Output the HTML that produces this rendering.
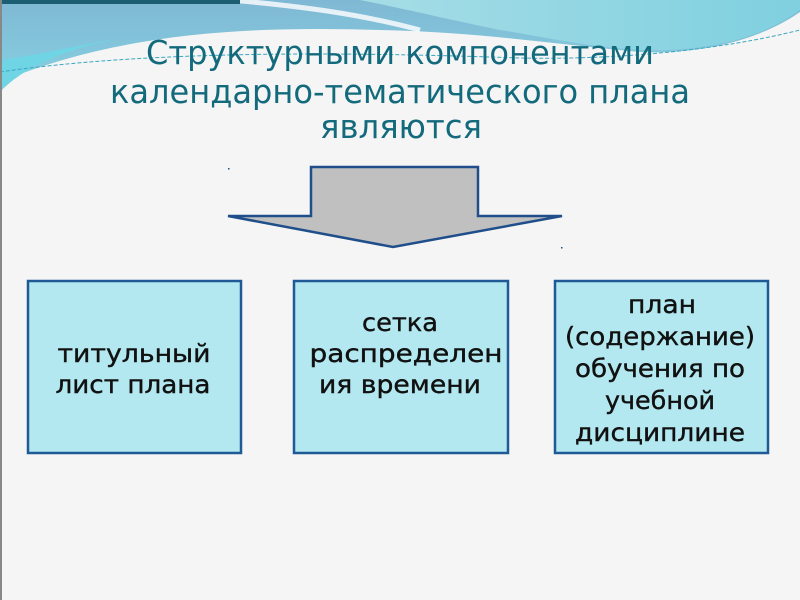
<!DOCTYPE html>
<html><head><meta charset="utf-8"><style>
html,body{margin:0;padding:0;background:#f5f5f5;}
svg{display:block}
</style></head><body>
<svg width="800" height="600" viewBox="0 0 800 600" xmlns="http://www.w3.org/2000/svg">
<defs>
<linearGradient id="g1" x1="0" y1="0" x2="0" y2="1">
<stop offset="0" stop-color="#7fb8d4"/><stop offset="1" stop-color="#86cfe0"/>
</linearGradient>
<linearGradient id="g2" x1="0" y1="0" x2="1" y2="0">
<stop offset="0" stop-color="#a6dde6"/><stop offset="1" stop-color="#7fd0e0"/>
</linearGradient>
</defs>
<rect width="800" height="600" fill="#f5f5f5"/>
<path d="M0,0 H800 V12 C760,40 700,55 640,52 C560,45 480,32 380,30 C250,26 120,32 0,82 Z" fill="url(#g1)"/>
<path d="M360,0 H800 V10 C760,40 700,52 640,50 C580,46 540,36 500,30 C450,20 410,10 360,0 Z" fill="url(#g2)"/>
<path d="M0,60 C40,55 80,45 120,38 C60,50 20,70 0,92 Z" fill="#6fd4e4"/>
<path d="M230,0 C300,6 360,14 420,30" stroke="#ffffff" stroke-width="5" fill="none" opacity="0.8"/>
<path d="M0,72 C150,50 350,52 520,58 C620,60 720,50 800,30" stroke="#3aa8bf" stroke-width="1" fill="none" stroke-dasharray="4,2"/>
<rect x="0" y="0" width="240" height="4" fill="#1d5f72"/>
<rect x="0" y="0" width="2" height="600" fill="#888"/>
<g font-family="DejaVu Sans, Liberation Sans, sans-serif" font-size="33" fill="#136a7c" text-anchor="middle">
<text x="400" y="64" textLength="508" lengthAdjust="spacingAndGlyphs">Структурными компонентами</text>
<text x="400" y="103" textLength="580" lengthAdjust="spacingAndGlyphs">календарно-тематического плана</text>
<text x="401" y="138" textLength="162" lengthAdjust="spacingAndGlyphs">являются</text>
</g>
<rect x="228" y="168" width="1.5" height="1.5" fill="#1f4e79"/>
<rect x="561" y="247" width="1.5" height="1.5" fill="#1f4e79"/>
<path d="M311,167 H478 V216 H562 L393,247 L228,216 H311 Z" fill="#c0c0c0" stroke="#1f4e8a" stroke-width="2.5" stroke-linejoin="miter"/>
<g fill="#b3e8f0" stroke="#1f5a96" stroke-width="2.5">
<rect x="28" y="281" width="213" height="172"/>
<rect x="294" y="281" width="214" height="172"/>
<rect x="555" y="281" width="213" height="172"/>
</g>
<g font-family="DejaVu Sans, Liberation Sans, sans-serif" font-size="25" fill="#111" stroke="#111" stroke-width="0.4" text-anchor="middle">
<text x="134" y="362" textLength="153" lengthAdjust="spacingAndGlyphs">титульный</text>
<text x="133" y="393" textLength="155" lengthAdjust="spacingAndGlyphs">лист плана</text>
<text x="400" y="331" textLength="76" lengthAdjust="spacingAndGlyphs">сетка</text>
<text x="406" y="362" textLength="193" lengthAdjust="spacingAndGlyphs">распределен</text>
<text x="400" y="393" textLength="162" lengthAdjust="spacingAndGlyphs">ия времени</text>
<text x="662" y="313" textLength="68" lengthAdjust="spacingAndGlyphs">план</text>
<text x="660" y="345" textLength="190" lengthAdjust="spacingAndGlyphs">(содержание)</text>
<text x="660" y="377" textLength="170" lengthAdjust="spacingAndGlyphs">обучения по</text>
<text x="660" y="409" textLength="110" lengthAdjust="spacingAndGlyphs">учебной</text>
<text x="660" y="441" textLength="170" lengthAdjust="spacingAndGlyphs">дисциплине</text>
</g>
</svg>
</body></html>
